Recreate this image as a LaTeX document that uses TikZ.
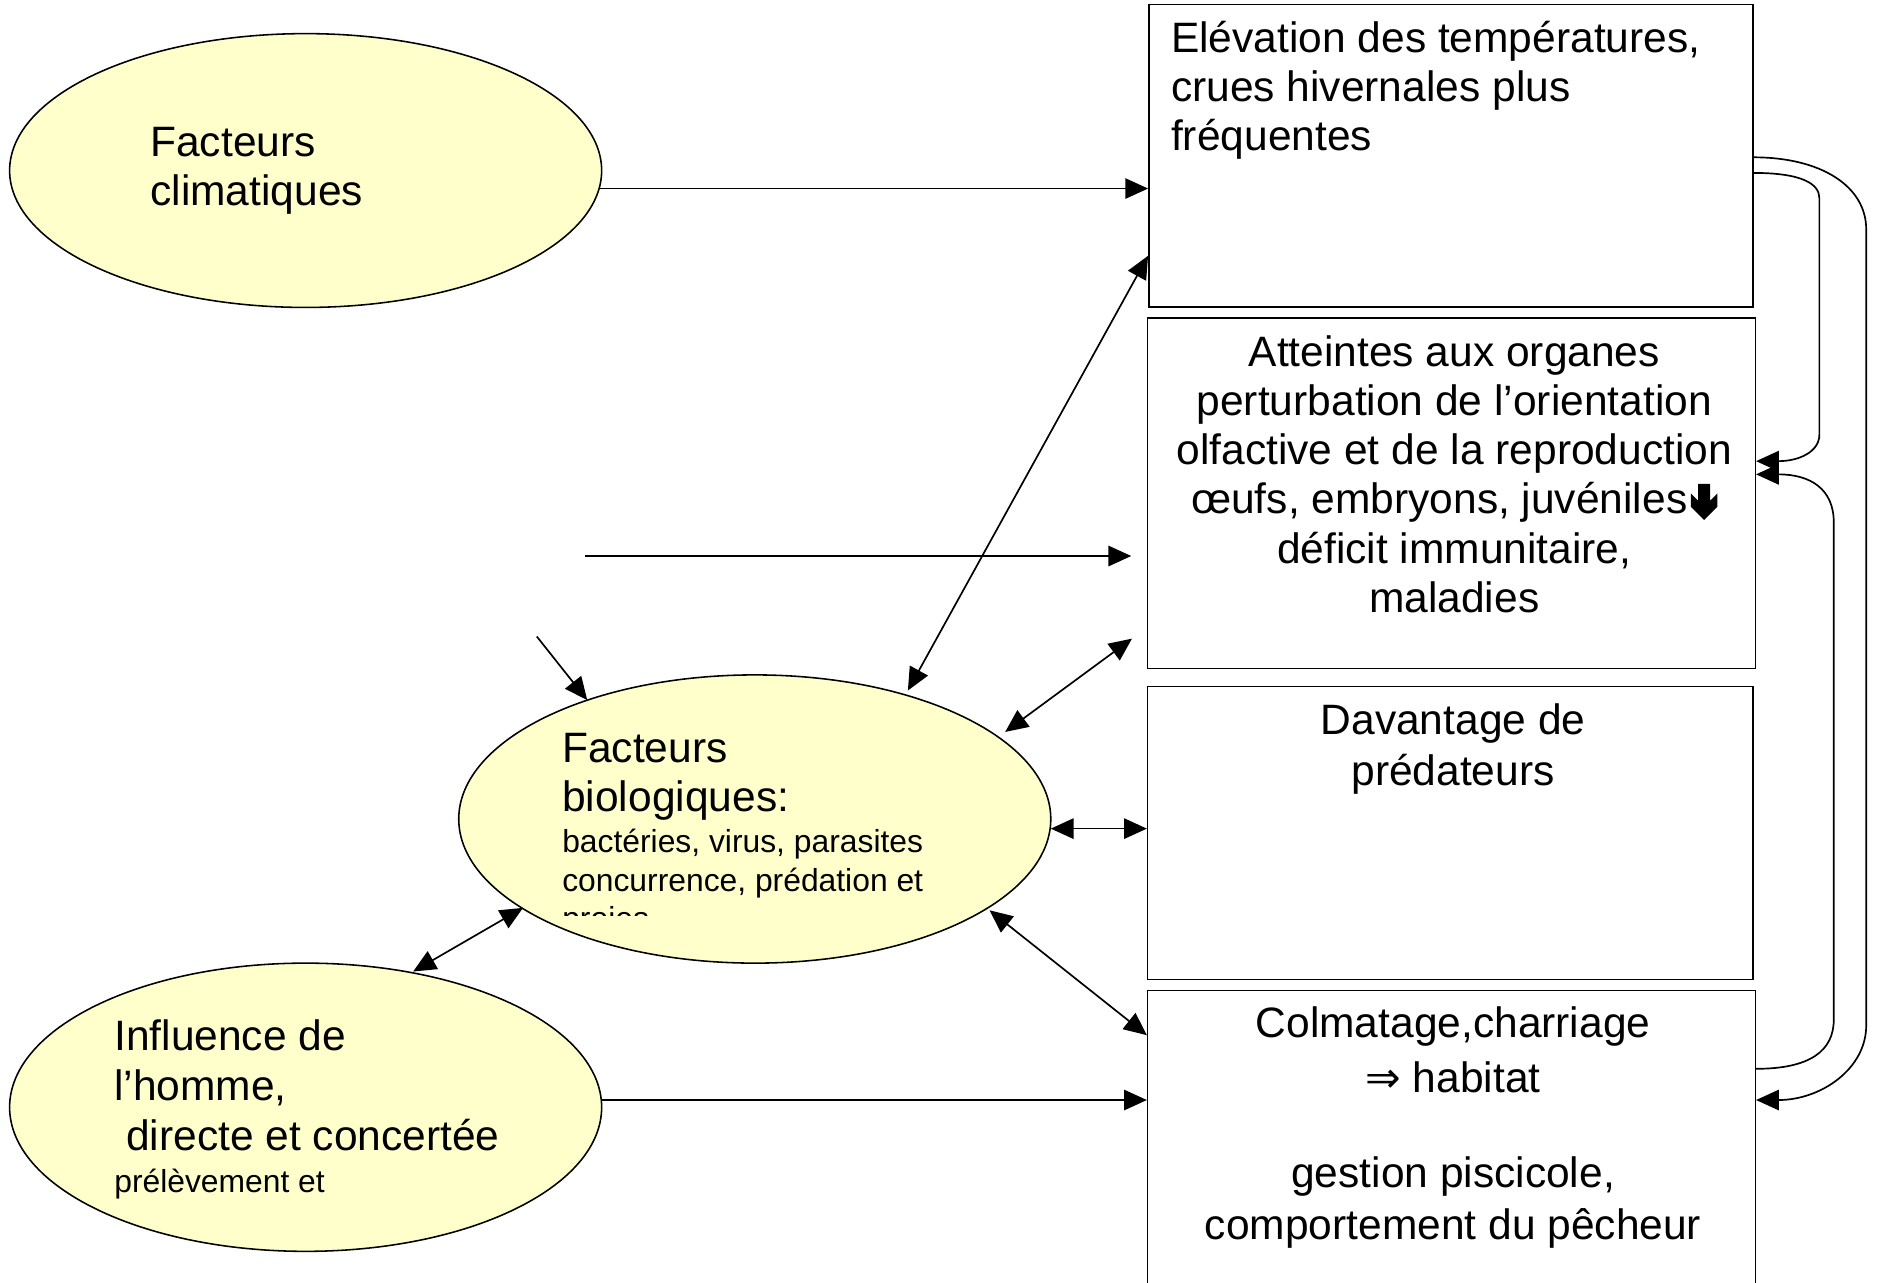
\documentclass[tikz,border=0pt]{standalone}
\usepackage{fontspec}
\setmainfont{Liberation Sans}
\newfontfamily\djv{DejaVu Sans}
\usetikzlibrary{arrows.meta,calc,shapes.geometric}
\definecolor{ellfill}{RGB}{255,255,204}
\tikzset{
  ell/.style={ellipse, draw, fill=ellfill, line width=1.3pt, inner sep=0pt},
  boxnode/.style={rectangle, draw, line width=1.3pt, inner sep=0pt, anchor=north west},
  txt/.style={inner sep=0pt, font=\fontsize{35.4}{41}\selectfont},
  arr/.style={line width=1.4pt, -{Triangle[length=19pt,width=17pt]}},
  darr/.style={line width=1.4pt, {Triangle[length=19pt,width=17pt]}-{Triangle[length=19pt,width=17pt]}},
}
\newcommand\smallfs{\fontsize{26.5}{32}\selectfont}
\newcommand\bolddown{\tikz[baseline=0pt,x=1pt,y=1pt]\fill (6,25) -- (16,25) -- (16,11) -- (22,17) -- (22,6) -- (11,-5) -- (0,6) -- (0,17) -- (6,11) -- cycle;}
\begin{document}
\begin{tikzpicture}[x=1pt,y=-1pt]
\useasboundingbox (0,0) rectangle (1568,1068);
\clip (0,0) rectangle (1568,1068);

% ellipses
\node[ell, minimum width=493, minimum height=228] (e1) at (254.5,142) {};
\node[ell, minimum width=493, minimum height=240] (e2) at (628.5,682) {};
\node[ell, minimum width=493, minimum height=240] (e3) at (254.5,922) {};

% boxes
\node[boxnode, minimum width=503, minimum height=252] (b1) at (956,3) {};
\node[boxnode, minimum width=506, minimum height=292] (b2) at (955,264) {};
\node[boxnode, minimum width=504, minimum height=244] (b3) at (955,571) {};
\node[boxnode, minimum width=506, minimum height=270] (b4) at (955,824) {};

% texts
\node[txt, anchor=base west] (te1) at (125,130) {\parbox[t]{360pt}{\raggedright Facteurs\\climatiques}};
\begin{scope}
\clip (380,560) rectangle (880,762);
\node[txt, anchor=base west] (te2) at (468,635) {\parbox[t]{400pt}{\raggedright Facteurs\\biologiques:\par\vspace{2pt}\smallfs bactéries, virus, parasites\\concurrence, prédation et\\proies\par}};
\end{scope}
\node[txt, anchor=base west, font=\fontsize{35.4}{41.5}\selectfont] (te3) at (95,875) {\parbox[t]{400pt}{\raggedright Influence de\\l’homme,\\\hspace*{0.278em}directe et concertée\par\vspace{3pt}\smallfs prélèvement et\par}};

\node[txt, anchor=base west, font=\fontsize{35.4}{40.5}\selectfont] (t1) at (975,44) {\parbox[t]{480pt}{\raggedright Elévation des températures,\\crues hivernales plus\\fréquentes}};
\node[txt, anchor=base] (t2) at (1211,305) {\parbox[t]{506pt}{\centering Atteintes aux organes\\perturbation de l’orientation\\olfactive et de la reproduction\\œufs, embryons, juvéniles\hspace{3pt}\bolddown\\déficit immunitaire,\\maladies}};
\node[txt, anchor=base, font=\fontsize{35.4}{42}\selectfont] (t3) at (1210,612) {\parbox[t]{504pt}{\centering Davantage de\\prédateurs}};
\node[txt, anchor=base, font=\fontsize{35.4}{42}\selectfont] (t4) at (1210,864) {\parbox[t]{506pt}{\centering Colmatage,charriage\\[4pt]{\djv ⇒} habitat\\[37pt]gestion piscicole,\\[1pt]comportement du pêcheur}};

% free ends
\coordinate (f1a) at (487,463);
\coordinate (f1b) at (942,463);
\coordinate (f2) at (447,530);

% connectors
\coordinate (p1) at ($(e1.center)+(244.4,15)$);
\draw[arr] (p1) -- (p1 -| b1.west);
\draw[arr] (f1a) -- (f1b);
\draw[arr] (f2) -- ($(e2.center)+(-139.5,-99)$);
\draw[darr] ($(b1.north west)+(0,210)$) -- ($(e2.center)+(127.5,-107)$);
\draw[darr] ($(b2.south west)+(-12.4,-25.5)$) -- ($(e2.center)+(208.5,-72.5)$);
\coordinate (p2) at ($(e2.center)+(246.5,8)$);
\draw[darr] (p2) -- (p2 -| b3.west);
\draw[darr] ($(e2.center)+(195.5,76)$) -- ($(b4.north west)+(0,38)$);
\draw[darr] ($(e2.center)+(-193,74)$) -- ($(e3.center)+(89.5,-113)$);
\coordinate (p3) at ($(e3.center)+(246.2,-6)$);
\draw[arr] (p3) -- (p3 -| b4.west);

% right-hand loops
\draw[arr] ($(b1.north east)+(0,128)$) .. controls +(56,0) and +(0,-36) .. (1554,191) -- (1554,854) .. controls +(0,36) and +(54,0) .. ($(b4.north east)+(0,92)$);
\draw[arr] ($(b1.north east)+(0,141)$) .. controls +(40,0) and +(0,-12) .. (1515,165) -- (1515,362) .. controls +(0,14) and +(36,0) .. ($(b2.north east)+(0,120)$);
\draw[arr] ($(b4.north east)+(0,66)$) .. controls +(45,0) and +(0,26) .. (1527,849) -- (1527,435) .. controls +(0,-28) and +(45,0) .. ($(b2.north east)+(0,131)$);
\end{tikzpicture}
\end{document}
